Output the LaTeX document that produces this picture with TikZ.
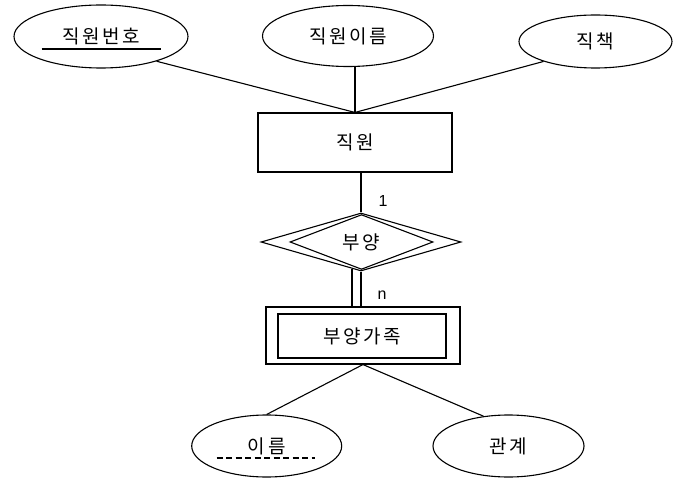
\documentclass[tikz,border=0pt]{standalone}
\usepackage{fontspec}
\setmainfont{Liberation Sans}
\newfontfamily\kr[LetterSpace=14]{Noto Sans CJK KR}
\usetikzlibrary{shapes.geometric,calc}
\begin{document}
\begin{tikzpicture}[x=1pt,y=-1pt,line width=1.1pt,
  attr/.style={ellipse,draw,inner sep=0pt,font=\kr\fontsize{19}{22}\selectfont},
  ent/.style={rectangle,draw,inner sep=0pt,font=\kr\fontsize{19}{22}\selectfont},
  rel/.style={diamond,draw,inner sep=0pt,font=\kr\fontsize{19}{22}\selectfont},
  card/.style={font=\fontsize{16}{18}\selectfont,inner sep=0pt}]
\useasboundingbox (0,0) rectangle (682,478);
% top attributes
\node[attr,minimum width=174,minimum height=63] (e1) at (101,36.5) {직원번호};
\node[attr,minimum width=171,minimum height=61] (e2) at (348,36) {직원이름};
\node[attr,minimum width=153,minimum height=53] (e3) at (595.5,41.5) {직책};
% entity
\node[ent,minimum width=194,minimum height=59] (r1) at (355,142.5) {직원};
% relationship
\node[rel,minimum width=200,minimum height=58] (d1) at (361,242) {};
\node[rel,minimum width=143,minimum height=42] (d1i) at (361.5,242) {부양};
% weak entity
\node[ent,minimum width=194,minimum height=57] (r2) at (363,335.5) {};
\node[ent,minimum width=168,minimum height=44] (r2i) at (362,336) {부양가족};
% bottom attributes
\node[attr,minimum width=150,minimum height=62] (e4) at (266.7,446) {이름};
\node[attr,minimum width=151,minimum height=62] (e5) at (508.5,446) {관계};
% underlines
\coordinate (u1a) at (41.7,49);
\coordinate (u1b) at (161,49);
\draw[line width=1.8pt] (u1a) -- (u1b);
\coordinate (u4a) at (216.7,458.3);
\coordinate (u4b) at (315,458.3);
\draw[line width=1.8pt,dash pattern=on 6pt off 3.5pt] (u4a) -- (u4b);
% connectors
\draw (e1.-24) -- (r1.north);
\draw (r1.north) -- (r1.north |- e2.south);
\draw (e3.-159) -- (r1.north);
\draw (d1.north) -- (d1.north |- r1.south);
\draw (d1.south) -- (d1.south |- r2.north);
\draw ($(d1.south)+(-9,-2.6)$) -- ($(d1.south |- r2.north)+(-9,0)$);
\draw (r2.south) -- (e4.north);
\draw (r2.south) -- (e5.130);
% cardinalities
\node[card] (c1) at (383,201) {1};
\node[card] (c2) at (382,295) {n};
\end{tikzpicture}
\end{document}
